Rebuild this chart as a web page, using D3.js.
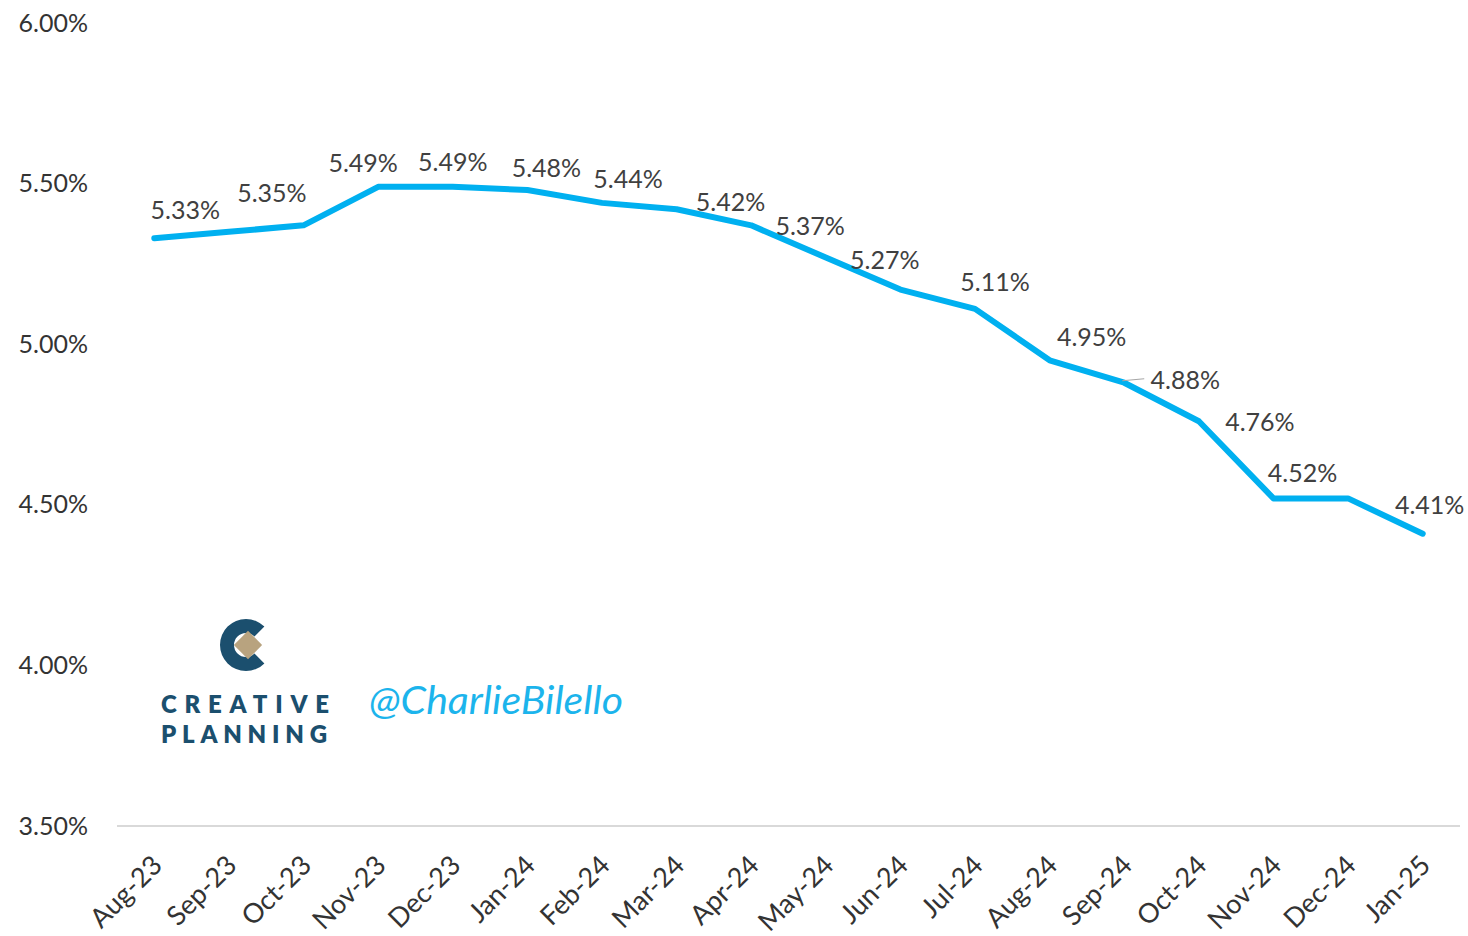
<!DOCTYPE html>
<html>
<head>
<meta charset="utf-8">
<script src="https://cdn.jsdelivr.net/npm/d3@7"></script>
<style>
  body { margin: 0; background: #fff; }
  text { font-family: Lato, "Open Sans", sans-serif; }
</style>
</head>
<body>
<div id="grafica"></div>
<script>
var months = ["Aug-23","Sep-23","Oct-23","Nov-23","Dec-23","Jan-24","Feb-24","Mar-24","Apr-24",
              "May-24","Jun-24","Jul-24","Aug-24","Sep-24","Oct-24","Nov-24","Dec-24","Jan-25"];
var yields = [5.33, 5.35, 5.37, 5.49, 5.49, 5.48, 5.44, 5.42, 5.37,
              5.27, 5.17, 5.11, 4.95, 4.88, 4.76, 4.52, 4.52, 4.41];
// which points carry a data label
var showLabel = [1,1,0,1,1,1,1,1,1, 1,0,1,1,1,1,1,0,1];
var yTicks = [3.5, 4.0, 4.5, 5.0, 5.5, 6.0];

// hand-dragged label offsets (dx, dy) like in the excel original
var nudge = [[31,-29],[43,-40],[0,0],[-15,-25],[0,-26],[19,-23],[26,-25],[54,-8],[59,0],
             [59,2],[0,0],[20,-28],[42,-24],[61,-4],[61,0],[29,-26],[0,0],[7,-30]];

var width = 1468, height = 936;

var svg = d3.select("#grafica")
            .append("svg")
            .attr("width", width)
            .attr("height", height);

var x = d3.scalePoint()
          .domain(months)
          .range([117, 1460])
          .padding(0.5);

var y = d3.scaleLinear()
          .domain([3.5, 6.0])
          .range([826, 23]);

// y axis labels only (no line, no ticks)
var yAxis = svg.append("g")
  .attr("transform", "translate(90,0)")
  .call(d3.axisLeft(y).tickValues(yTicks).tickSize(0).tickPadding(2)
        .tickFormat(function(d) { return d.toFixed(2) + "%"; }));
yAxis.select(".domain").remove();
yAxis.selectAll("text")
  .attr("font-family", "Lato, 'Open Sans', sans-serif")
  .attr("font-size", 25)
  .attr("fill", "#333");

// x axis
var xAxis = svg.append("g")
  .attr("transform", "translate(0," + y(3.5) + ")")
  .call(d3.axisBottom(x).tickSize(0).tickPadding(0));
xAxis.select(".domain")
  .attr("stroke", "#d9d9d9")
  .attr("stroke-width", 2)
  .attr("d", "M117,0H1460");
xAxis.selectAll("text")
  .attr("font-family", "Lato, 'Open Sans', sans-serif")
  .attr("font-size", 27)
  .attr("fill", "#333")
  .attr("dy", 0)
  .attr("transform", "translate(9,41)rotate(-45)")
  .style("text-anchor", "end");

// the line
var line = d3.line()
  .x(function(d, i) { return x(months[i]); })
  .y(function(d) { return y(d); });

svg.append("path")
  .datum(yields)
  .attr("fill", "none")
  .attr("stroke", "#00b0f0")
  .attr("stroke-width", 6)
  .attr("stroke-linejoin", "round")
  .attr("stroke-linecap", "round")
  .attr("d", line);

// leader line for Sep-24 label
var si = months.indexOf("Sep-24");
svg.append("line")
  .attr("x1", x(months[si]) - 2).attr("y1", y(yields[si]) - 2)
  .attr("x2", x(months[si]) + 20).attr("y2", y(yields[si]) - 4)
  .attr("stroke", "#a6a6a6")
  .attr("stroke-width", 1.2);

// data labels
svg.selectAll("text.lbl")
  .data(yields.map(function(v, i) { return {v: v, i: i}; }).filter(function(d) { return showLabel[d.i]; }))
  .enter()
  .append("text")
    .attr("class", "lbl")
    .attr("x", function(d) { return x(months[d.i]) + nudge[d.i][0]; })
    .attr("y", function(d) { return y(d.v) + nudge[d.i][1]; })
    .attr("text-anchor", "middle")
    .attr("dominant-baseline", "central")
    .attr("font-size", 25)
    .attr("fill", "#404040")
    .text(function(d) { return d.v.toFixed(2) + "%"; });

// Creative Planning logo
var logo = svg.append("g").attr("transform", "translate(246,645)");
logo.append("path")
  .attr("d", d3.arc().innerRadius(12).outerRadius(26)
          .startAngle(Math.PI * 0.75).endAngle(Math.PI * 2.25)())
  .attr("fill", "#1b4f6e");
logo.append("rect")
  .attr("x", -10).attr("y", -10).attr("width", 20).attr("height", 20)
  .attr("transform", "translate(2,0)rotate(45)")
  .attr("fill", "#b8a37f");

svg.append("text")
  .attr("x", 161).attr("y", 713)
  .attr("font-family", "'Open Sans', sans-serif")
  .attr("font-weight", 800)
  .attr("font-size", 24)
  .attr("fill", "#1b4f6e")
  .attr("textLength", 168)
  .attr("lengthAdjust", "spacing")
  .text("CREATIVE");
svg.append("text")
  .attr("x", 161).attr("y", 743)
  .attr("font-family", "'Open Sans', sans-serif")
  .attr("font-weight", 800)
  .attr("font-size", 24)
  .attr("fill", "#1b4f6e")
  .attr("textLength", 166)
  .attr("lengthAdjust", "spacing")
  .text("PLANNING");

svg.append("text")
  .attr("x", 369).attr("y", 714)
  .attr("font-family", "'Noto Sans', sans-serif")
  .attr("font-style", "italic")
  .attr("font-size", 38)
  .attr("fill", "#1cb4ec")
  .attr("textLength", 254)
  .attr("lengthAdjust", "spacingAndGlyphs")
  .text("@CharlieBilello");
</script>
</body>
</html>
